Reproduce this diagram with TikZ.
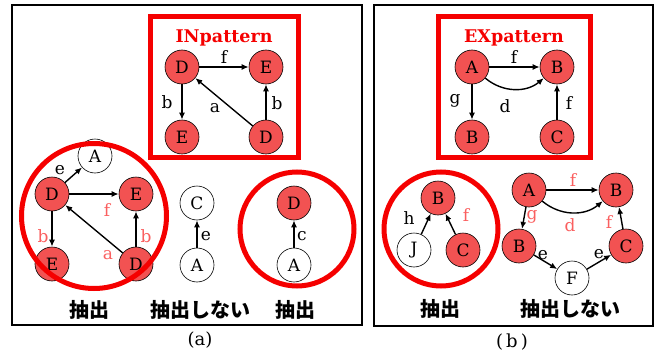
\documentclass[tikz,border=0pt]{standalone}
\usepackage{fontspec}
\setmainfont{DejaVu Serif}
\newfontfamily\cjk{Noto Sans CJK JP}
\usetikzlibrary{arrows.meta}
\definecolor{nodered}{RGB}{242,82,82}
\definecolor{labred}{RGB}{250,95,95}
\definecolor{frred}{RGB}{245,0,0}
\tikzset{
  vx/.style={circle,draw=black,line width=0.6pt,minimum size=34pt,inner sep=0pt,font=\fontsize{17}{17}\selectfont},
  rv/.style={vx,fill=nodered},
  wv/.style={vx,fill=white},
  arr/.style={line width=1.4pt,-{Latex[length=7pt,width=6pt]}},
  lab/.style={font=\fontsize{17}{17}\selectfont},
  rlab/.style={lab,text=labred},
  frame/.style={draw=black,line width=2.6pt},
  redframe/.style={draw=frred,line width=5pt},
  title/.style={text=frred,font=\fontsize{17.5}{17.5}\selectfont\bfseries},
  jp/.style={font=\cjk\bfseries\fontsize{20}{20}\selectfont},
  captext/.style={font=\fontsize{18}{18}\selectfont}
}
\begin{document}
\begin{tikzpicture}[x=1pt,y=-1pt]
\useasboundingbox (0,0) rectangle (659,356);
% frames
\draw[frame] (12,5) rectangle (362,325);
\draw[frame] (374,5) rectangle (653,326);
% ---------- (a) ----------
\draw[redframe] (150,16) rectangle (298,157);
\node[title] (tin) at (224,38) {INpattern};
\node[rv] (p1) at (182,67) {D};
\node[rv] (p2) at (266,67) {E};
\node[rv] (p3) at (182,137) {E};
\node[rv] (p4) at (266,137) {D};
\draw[arr] (p1) -- (p2);
\draw[arr] (p1) -- (p3);
\draw[arr] (p4) -- (p1);
\draw[arr] (p4) -- (p2);
\node[lab] (l1) at (224,57) {f};
\node[lab] (l2) at (167,102) {b};
\node[lab] (l3) at (215,108) {a};
\node[lab] (l4) at (277,103) {b};
% left cluster
\node[wv] (a1) at (95,156) {A};
\node[rv] (a2) at (52,194) {D};
\node[rv] (a3) at (136,194) {E};
\node[rv] (a4) at (52,264) {E};
\node[rv] (a5) at (136,264) {D};
\draw[arr] (a2) -- (a1);
\draw[arr] (a2) -- (a3);
\draw[arr] (a2) -- (a4);
\draw[arr] (a5) -- (a2);
\draw[arr] (a5) -- (a3);
\node[lab] (la1) at (60,170) {e};
\node[rlab] (la2) at (107,210) {f};
\node[rlab] (la3) at (43,236) {b};
\node[rlab] (la4) at (146,236) {b};
\node[rlab] (la5) at (108,255) {a};
% middle
\node[wv] (m1) at (197,203) {C};
\node[wv] (m2) at (197,265) {A};
\draw[arr] (m2) -- (m1);
\node[lab] (lm) at (206,236) {e};
% right
\node[rv] (r1) at (294,203) {D};
\node[wv] (r2) at (294,265) {A};
\draw[arr] (r2) -- (r1);
\node[lab] (lr) at (302,236) {c};
% red circles
\draw[redframe] (94,216) circle (72.5);
\draw[redframe] (297,229) circle (57);
\node[jp] (j1) at (89,310) {抽出};
\node[jp] (j2) at (200,310) {抽出しない};
\node[jp] (j3) at (295,310) {抽出};
\node[captext] (ca) at (200,340) {(a)};
% ---------- (b) ----------
\draw[redframe] (438,16) rectangle (590,157);
\node[title] (tex) at (514,38) {EXpattern};
\node[rv] (q1) at (472,67) {A};
\node[rv] (q2) at (557,67) {B};
\node[rv] (q3) at (472,137) {B};
\node[rv] (q4) at (557,137) {C};
\draw[arr] (q1) -- (q2);
\draw[arr] (q1) to[out=-40,in=-140] (q2);
\draw[arr] (q1) -- (q3);
\draw[arr] (q4) -- (q2);
\node[lab] (k1) at (514,57) {f};
\node[lab] (k2) at (455,101) {g};
\node[lab] (k3) at (505,106) {d};
\node[lab] (k4) at (569,103) {f};
% circled graph
\node[rv] (b1) at (438,198) {B};
\node[wv] (b2) at (414,250) {J};
\node[rv] (b3) at (463,250) {C};
\draw[arr] (b2) -- (b1);
\draw[arr] (b3) -- (b1);
\node[lab] (lb1) at (409,218) {h};
\node[rlab] (lb2) at (466,215) {f};
\draw[redframe] (441,229) circle (57);
% other graph
\node[rv] (c1) at (529,190) {A};
\node[rv] (c2) at (616,190) {B};
\node[rv] (c3) at (519,246) {B};
\node[rv] (c4) at (626,246) {C};
\node[wv] (c5) at (572,278) {F};
\draw[arr] (c1) -- (c2);
\draw[arr] (c1) to[out=-40,in=-140] (c2);
\draw[arr] (c1) -- (c3);
\draw[arr] (c4) -- (c2);
\draw[arr] (c3) -- (c5);
\draw[arr] (c5) -- (c4);
\node[rlab] (lc1) at (573,180) {f};
\node[rlab] (lc2) at (532,217) {g};
\node[rlab] (lc3) at (570,225) {d};
\node[rlab] (lc4) at (609,222) {f};
\node[lab] (lc5) at (543,255) {e};
\node[lab] (lc6) at (599,254) {e};
\node[jp] (j4) at (440,309) {抽出};
\node[jp] (j5) at (570,309) {抽出しない};
\node[captext] (cb) at (512,342) {(\,b\,)};
\end{tikzpicture}
\end{document}
